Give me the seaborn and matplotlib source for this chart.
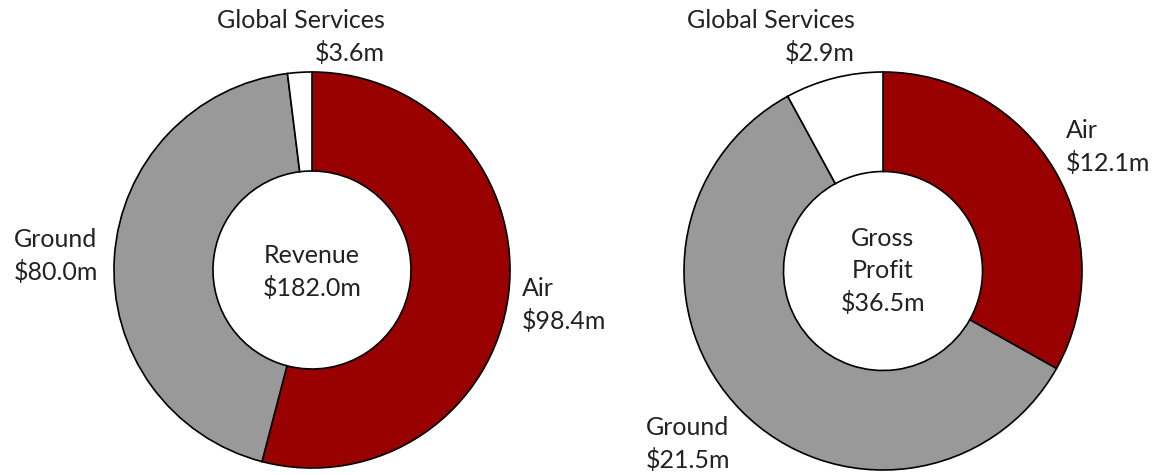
import matplotlib
matplotlib.use("Agg")
import matplotlib.pyplot as plt
import seaborn as sns

sns.set_theme(style="white")
plt.rcParams['font.family'] = ['Lato', 'DejaVu Sans']

segments = ["Air", "Ground", "Global Services"]
revenue = [98.4, 80.0, 3.6]
gross_profit = [12.1, 21.5, 2.9]
colors = ["#990000", "#999999", "#FFFFFF"]

W, H = 1156, 475
fig = plt.figure(figsize=(W / 100, H / 100), dpi=100)


def px(x, y):
    return x / W, 1 - y / H


def donut(cx, cy, r, values):
    ax = fig.add_axes([(cx - r) / W, (H - cy - r) / H, 2 * r / W, 2 * r / H])
    ax.pie(values, colors=colors, startangle=90, counterclock=False,
           radius=1.0,
           wedgeprops=dict(width=0.5, edgecolor="black", linewidth=1.2))
    ax.set_xlim(-1.01, 1.01)
    ax.set_ylim(-1.01, 1.01)
    ax.set_aspect("equal")
    ax.axis("off")
    return ax


fs = 18
ls = 1.45
tc = "#222222"

donut(312, 270, 200, revenue)
donut(883, 271, 201, gross_profit)

# Left chart labels
fig.text(*px(312, 272), f"Revenue\n${sum(revenue):.1f}m", ha="center", va="center",
         fontsize=fs, linespacing=ls, color=tc)
fig.text(*px(385, 37), f"{segments[2]}\n${revenue[2]:.1f}m", ha="right", va="center",
         multialignment="right", fontsize=fs, linespacing=ls, color=tc)
fig.text(*px(14, 256), f"{segments[1]}\n${revenue[1]:.1f}m", ha="left", va="center",
         fontsize=fs, linespacing=ls, color=tc)
fig.text(*px(522, 305), f"{segments[0]}\n${revenue[0]:.1f}m", ha="left", va="center",
         fontsize=fs, linespacing=ls, color=tc)

# Right chart labels
fig.text(*px(883, 271), f"Gross\nProfit\n${sum(gross_profit):.1f}m", ha="center", va="center",
         fontsize=fs, linespacing=ls, color=tc)
fig.text(*px(855, 37), f"{segments[2]}\n${gross_profit[2]:.1f}m", ha="right", va="center",
         multialignment="right", fontsize=fs, linespacing=ls, color=tc)
fig.text(*px(1066, 147), f"{segments[0]}\n${gross_profit[0]:.1f}m", ha="left", va="center",
         fontsize=fs, linespacing=ls, color=tc)
fig.text(*px(646, 444), f"{segments[1]}\n${gross_profit[1]:.1f}m", ha="left", va="center",
         fontsize=fs, linespacing=ls, color=tc)

fig.savefig("out.png", dpi=100)
